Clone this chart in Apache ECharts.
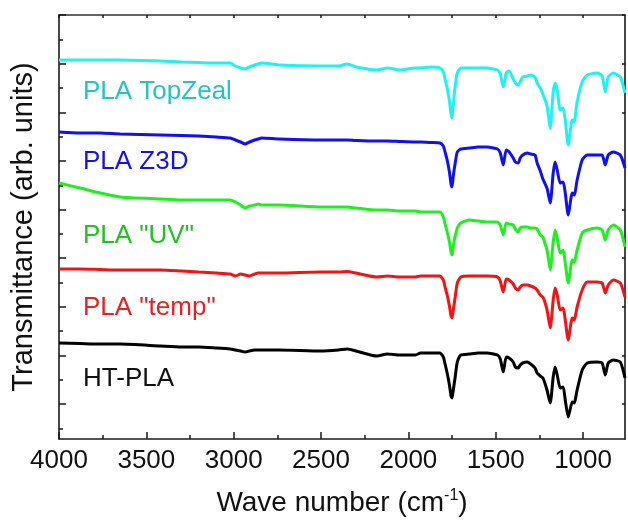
<!DOCTYPE html>
<html>
<head>
<meta charset="utf-8">
<script src="https://cdn.jsdelivr.net/npm/echarts@6/dist/echarts.min.js"></script>
<style>
html,body{margin:0;padding:0;background:#fff;}
#chart{width:628px;height:523px;}
</style>
</head>
<body>
<div id="chart"></div>
<script>
// Wavenumber grid (cm-1), shared by all spectra
var wavenumbers = [4000, 3880, 3765, 3650, 3420, 3300, 3200, 3100, 3020, 2990, 2960, 2935, 2910, 2880, 2860, 2840, 2740, 2500, 2400, 2350, 2300, 2180, 2120, 2050, 1960, 1930, 1870, 1820, 1800, 1790, 1778, 1765, 1756, 1750, 1743, 1732, 1720, 1700, 1650, 1600, 1550, 1490, 1474, 1457, 1440, 1423, 1400, 1388, 1371, 1360, 1345, 1320, 1300, 1275, 1263, 1245, 1230, 1217, 1205, 1188, 1171, 1160, 1148, 1131, 1114, 1102, 1085, 1062, 1051, 1045, 1034, 1005, 976, 920, 891, 873, 856, 827, 787, 760];

// Transmittance (arb. units, stacked with offsets as in the figure)
var htPLA = [61, 60.5, 60, 60, 58, 57, 57, 56, 55, 54, 53, 52, 53, 54, 54, 54, 54, 53, 54, 55, 53, 48, 50, 49, 49, 51, 51, 51, 47, 40, 31, 19, 8, 6, 14, 27, 42, 49, 50, 51, 51, 49, 45, 32, 47, 46, 42, 37, 36, 39, 41, 42, 40, 36, 31, 28, 26, 20, 13, 1, 27, 37, 29, 16, 17, 4, -13, 2, 1, 4, 14, 34, 41, 42, 41, 29, 41, 44, 42, 26];
var plaTemp = [135, 135, 134.5, 134, 134, 133, 132, 131, 130, 128, 130, 129, 128, 130, 131, 131, 131, 132, 132, 132.5, 131, 127, 128, 127, 127, 128, 128, 128, 124, 117, 109, 98, 88, 86, 94, 107, 121, 127, 128, 128, 128, 127, 123, 112, 125, 124, 120, 116, 114, 117, 119, 119, 118, 116, 114, 109, 107, 101, 93, 76, 104, 116, 109, 94, 96, 84, 64, 86, 84, 87, 97, 114, 122, 122, 121, 111, 119, 124, 121, 107];
var plaUV = [221, 216, 211, 207, 205, 204, 204, 204, 204, 202, 199, 196, 198, 199, 200, 199, 199, 197, 197, 197, 196, 194, 194, 193, 193, 192, 192, 192, 187, 180, 172, 162, 152, 149, 158, 168, 176, 181, 184, 183, 182, 182, 179, 169, 181, 180, 179, 175, 172, 176, 177, 177, 176, 176, 175, 169, 167, 160, 153, 134, 162, 174, 166, 151, 154, 141, 121, 144, 142, 145, 154, 171, 174, 176, 174, 164, 174, 179, 174, 157];
var plaZ3D = [272, 271, 271, 270, 269, 268.5, 268, 267, 266, 264, 262, 260, 262, 264, 265, 266, 265, 264, 264, 264, 263.5, 263, 263, 262.5, 262, 262, 261.5, 261, 258, 252, 244, 232, 220, 217, 228, 241, 252, 255, 256, 257, 257, 255, 251, 239, 254, 252, 246, 242, 241, 246, 249, 251, 250, 249, 241, 233, 225, 220, 215, 201, 231, 242, 234, 221, 222, 211, 189, 211, 209, 212, 224, 244, 249, 249, 249, 239, 249, 252, 249, 236];
var plaTopZeal = [344, 344, 344, 344, 343, 342, 341.5, 341, 341, 338, 336, 335, 337, 339, 340, 341, 339, 338, 338, 340, 337, 334, 336, 334, 336, 336, 337, 336, 332, 325, 316, 303, 290, 286, 299, 318, 331, 336, 336, 336, 336, 334, 330, 317, 331, 333, 325, 321, 319, 322, 327, 328, 329, 327, 321, 316, 310, 304, 297, 276, 312, 321, 314, 294, 296, 284, 259, 284, 282, 287, 302, 322, 329, 331, 328, 312, 327, 331, 327, 311];

var seriesNames = ['PLA TopZeal', 'PLA Z3D', 'PLA "UV"', 'PLA "temp"', 'HT-PLA'];
var seriesValues = [plaTopZeal, plaZ3D, plaUV, plaTemp, htPLA];
var lineColors = ['#1ef2f2', '#1010f0', '#1ef01e', '#f01414', '#000000'];
var labelColors = ['#22c4c4', '#1414e0', '#22c022', '#e82222', '#111111'];

var xTickLabels = [4000, 3500, 3000, 2500, 2000, 1500, 1000];
var xMinorTicks = [3750, 3250, 2750, 2250, 1750, 1250];
var yMajorTicks = [0, 1, 2, 3, 4, 5, 6, 7, 8].map(function (i) { return i * 48.6; });
var yMinorTicks = [-0.5, 0.5, 1.5, 2.5, 3.5, 4.5, 5.5, 6.5, 7.5].map(function (i) { return i * 48.6; });

var labelY = [92, 162, 236, 308, 379];

var chart = echarts.init(document.getElementById('chart'), null, {renderer: 'canvas'});
var FONT = '"Liberation Sans", Arial, sans-serif';
var axisCol = '#1a1a1a';

function pairs(vals) {
  return wavenumbers.map(function (w, i) { return [w, vals[i]]; });
}

var series = seriesNames.map(function (n, k) {
  return {
    name: n, type: 'line', xAxisIndex: 0, yAxisIndex: 0,
    data: pairs(seriesValues[k]), showSymbol: false, symbol: 'none',
    smooth: 0.2,
    lineStyle: {color: lineColors[k], width: 3},
    itemStyle: {color: lineColors[k]},
    animation: false, silent: true
  };
});

var graphics = seriesNames.map(function (n, k) {
  return {
    type: 'text', x: 83, y: labelY[k],
    style: {text: n, fill: labelColors[k], font: '26px ' + FONT,
            align: 'left', verticalAlign: 'middle', textAlign: 'left', textVerticalAlign: 'middle'}
  };
});

var xBase = {type: 'value', inverse: true, min: 760, max: 4000, gridIndex: 0,
  splitLine: {show: false}};
var yBase = {type: 'value', min: -35, max: 389, gridIndex: 0, splitLine: {show: false}};

var option = {
  animation: false,
  textStyle: {fontFamily: FONT},
  grid: {left: 59, right: 3, top: 15, bottom: 84, containLabel: false},
  xAxis: [
    Object.assign({}, xBase, {
      position: 'bottom',
      axisLine: {show: true, onZero: false, lineStyle: {color: axisCol, width: 1.6}},
      axisTick: {show: true, inside: true, length: 7, customValues: xTickLabels, lineStyle: {color: axisCol, width: 1.5}},
      axisLabel: {show: true, customValues: xTickLabels, margin: 9, fontSize: 26, color: '#111', fontFamily: FONT,
        formatter: function (v) { return String(v); }},
      name: 'Wave number (cm{sup|-1})', nameLocation: 'middle', nameGap: 49,
      nameTextStyle: {fontSize: 28, color: '#111', fontFamily: FONT,
        rich: {sup: {fontSize: 16, verticalAlign: 'top', color: '#111', fontFamily: FONT, padding: [0, 0, 14, 0]}}}
    }),
    Object.assign({}, xBase, {
      position: 'bottom',
      axisLine: {show: false, onZero: false},
      axisTick: {show: true, inside: true, length: 4, customValues: xMinorTicks, lineStyle: {color: axisCol, width: 1.5}},
      axisLabel: {show: false}
    }),
    Object.assign({}, xBase, {
      position: 'top',
      axisLine: {show: true, onZero: false, lineStyle: {color: '#333', width: 1.6}},
      axisTick: {show: true, inside: true, length: 3, customValues: xTickLabels.concat(xMinorTicks), lineStyle: {color: axisCol, width: 1.5}},
      axisLabel: {show: false}
    })
  ],
  yAxis: [
    Object.assign({}, yBase, {
      position: 'left',
      axisLine: {show: true, onZero: false, lineStyle: {color: axisCol, width: 1.6}},
      axisTick: {show: true, inside: true, length: 7, customValues: yMajorTicks, lineStyle: {color: axisCol, width: 1.5}},
      axisLabel: {show: false},
      name: 'Transmittance (arb. units)', nameLocation: 'middle', nameGap: 21,
      nameTextStyle: {fontSize: 29, color: '#111', fontFamily: FONT}
    }),
    Object.assign({}, yBase, {
      position: 'left',
      axisLine: {show: false, onZero: false},
      axisTick: {show: true, inside: true, length: 4, customValues: yMinorTicks, lineStyle: {color: axisCol, width: 1.5}},
      axisLabel: {show: false}
    }),
    Object.assign({}, yBase, {
      position: 'right',
      axisLine: {show: true, onZero: false, lineStyle: {color: axisCol, width: 1.6}},
      axisTick: {show: true, inside: true, length: 3, customValues: yMajorTicks, lineStyle: {color: axisCol, width: 1.5}},
      axisLabel: {show: false}
    })
  ],
  graphic: graphics,
  series: series
};
chart.setOption(option);
</script>
</body>
</html>
